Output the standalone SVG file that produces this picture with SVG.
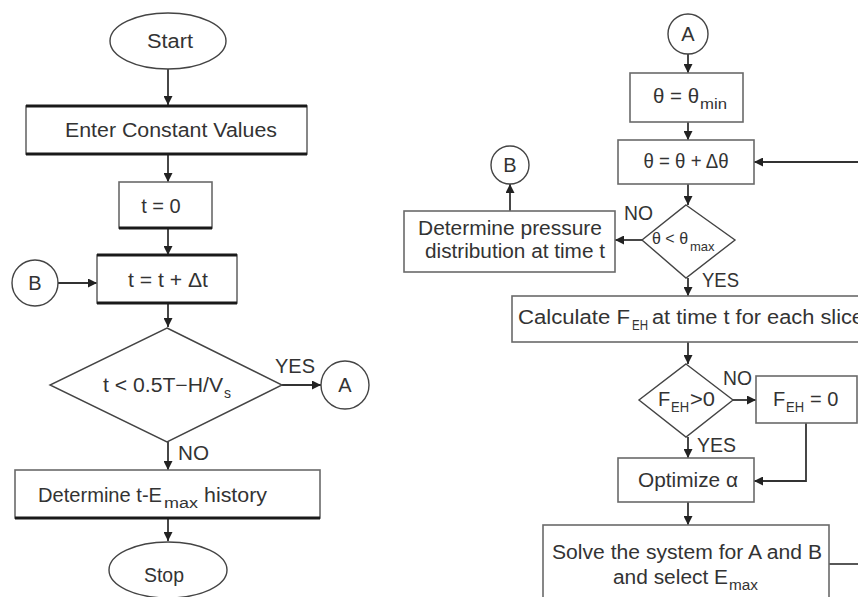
<svg xmlns="http://www.w3.org/2000/svg" width="858" height="597" viewBox="0 0 858 597">
<defs>
<marker id="ah" viewBox="0 0 10 10" refX="10" refY="5" markerWidth="9" markerHeight="9" markerUnits="userSpaceOnUse" orient="auto">
<path d="M0,0 L10,5 L0,10 z" fill="#222"/>
</marker>
<style>
.box{fill:#fff;stroke:#6a6a6a;stroke-width:1.6}
.dk{stroke:#1a1a1a;stroke-width:3;fill:none}
.c{fill:#fff;stroke:#444;stroke-width:1.4}
.t{font-family:"Liberation Sans",Arial,sans-serif;font-size:20px;fill:#333}
.s{font-size:14px}
.ln{fill:none;stroke:#444;stroke-width:1.8}
.ar{fill:none;stroke:#333;stroke-width:1.8;marker-end:url(#ah)}
</style>
</defs>
<rect width="858" height="597" fill="#fff"/>

<g id="connectors">
<path class="ar" d="M168,69 V105"/>
<path class="ar" d="M168,154 V182"/>
<path class="ar" d="M168,228 V255"/>
<path class="ar" d="M58,283 H97"/>
<path class="ar" d="M168,303 V327"/>
<path class="ar" d="M282,385 H321"/>
<path class="ar" d="M168,442 V470"/>
<path class="ar" d="M168,518 V541"/>
<path class="ar" d="M688,54 V73"/>
<path class="ar" d="M688,122 V140"/>
<path class="ar" d="M858,162 H754"/>
<path class="ar" d="M688,184 V205"/>
<path class="ar" d="M642,240 H615"/>
<path class="ar" d="M510,211 V184"/>
<path class="ar" d="M688,278 V296"/>
<path class="ar" d="M688,342 V364"/>
<path class="ar" d="M733,400 H756"/>
<path class="ar" d="M688,437 V458"/>
<path class="ar" d="M806,423 V481 H754"/>
<path class="ar" d="M688,502 V525"/>
<path class="ln" d="M829,564 H858"/>
</g>

<g id="start">
<ellipse class="c" cx="168" cy="41" rx="58" ry="28"/>
<text class="t" x="170" y="48" text-anchor="middle" textLength="46" lengthAdjust="spacingAndGlyphs">Start</text>
</g>
<g id="enter">
<rect class="box" x="26" y="106" width="281" height="48"/>
<path class="dk" d="M26,106 H307 M26,154 H307"/>
<text class="t" x="171" y="137" text-anchor="middle" textLength="212" lengthAdjust="spacingAndGlyphs">Enter Constant Values</text>
</g>
<g id="t0">
<rect class="box" x="119" y="182" width="93" height="46"/>
<path class="dk" d="M119,228 H212"/>
<text class="t" x="161" y="213" text-anchor="middle">t = 0</text>
</g>
<g id="tinc">
<rect class="box" x="97" y="255" width="140" height="48"/>
<path class="dk" d="M97,255 H237 M97,303 H237"/>
<text class="t" x="168" y="287" text-anchor="middle" textLength="80" lengthAdjust="spacingAndGlyphs">t = t + Δt</text>
</g>
<g id="connB1">
<circle class="c" cx="35" cy="283" r="23"/>
<text class="t" x="35" y="290" text-anchor="middle">B</text>
</g>
<g id="dec1">
<path class="c" d="M167,328 L282,385 L167,442 L50,385 Z"/>
<text class="t" x="103" y="392" textLength="120" lengthAdjust="spacingAndGlyphs">t &lt; 0.5T−H/V</text>
<text class="t s" x="224" y="398">s</text>
<text class="t" x="275" y="373" textLength="40" lengthAdjust="spacingAndGlyphs">YES</text>
<text class="t" x="178" y="460" textLength="31" lengthAdjust="spacingAndGlyphs">NO</text>
</g>
<g id="connA1">
<circle class="c" cx="345" cy="385" r="24"/>
<text class="t" x="345" y="392" text-anchor="middle">A</text>
</g>
<g id="detE">
<rect class="box" x="15" y="470" width="305" height="48"/>
<path class="dk" d="M15,518 H320"/>
<text class="t" x="38" y="502" textLength="124" lengthAdjust="spacingAndGlyphs">Determine t-E</text>
<text class="t s" x="164" y="508" textLength="34" lengthAdjust="spacingAndGlyphs">max</text>
<text class="t" x="204" y="502" textLength="63" lengthAdjust="spacingAndGlyphs">history</text>
</g>
<g id="stop">
<ellipse class="c" cx="168" cy="570" rx="59" ry="28"/>
<text class="t" x="164" y="582" text-anchor="middle" textLength="40" lengthAdjust="spacingAndGlyphs">Stop</text>
</g>

<g id="connA2">
<circle class="c" cx="688" cy="34" r="20"/>
<text class="t" x="688" y="41" text-anchor="middle">A</text>
</g>
<g id="thmin">
<rect class="box" x="630" y="73" width="113" height="49"/>
<text class="t" x="653" y="103" textLength="46" lengthAdjust="spacingAndGlyphs">θ = θ</text>
<text class="t s" x="700" y="109" textLength="27" lengthAdjust="spacingAndGlyphs">min</text>
</g>
<g id="thinc">
<rect class="box" x="618" y="140" width="136" height="44"/>
<text class="t" x="686" y="168" text-anchor="middle" textLength="85" lengthAdjust="spacingAndGlyphs">θ = θ + Δθ</text>
</g>
<g id="dec2">
<path class="c" d="M686,205 L735,240 L686,278 L642,240 Z"/>
<text class="t" x="652" y="244" style="font-size:16px">θ &lt; θ</text>
<text class="t" x="690" y="251" style="font-size:13px">max</text>
<text class="t" x="624" y="220" textLength="29" lengthAdjust="spacingAndGlyphs">NO</text>
<text class="t" x="702" y="287" textLength="37" lengthAdjust="spacingAndGlyphs">YES</text>
</g>
<g id="press">
<rect class="box" x="404" y="211" width="211" height="61"/>
<text class="t" x="418" y="235" textLength="184" lengthAdjust="spacingAndGlyphs">Determine pressure</text>
<text class="t" x="425" y="258" textLength="180" lengthAdjust="spacingAndGlyphs">distribution at time t</text>
</g>
<g id="connB2">
<circle class="c" cx="510" cy="165" r="19"/>
<text class="t" x="510" y="172" text-anchor="middle">B</text>
</g>
<g id="calc">
<rect class="box" x="512" y="296" width="360" height="46"/>
<text class="t" x="518" y="324" textLength="112" lengthAdjust="spacingAndGlyphs">Calculate F</text>
<text class="t s" x="632" y="330" textLength="16" lengthAdjust="spacingAndGlyphs">EH</text>
<text class="t" x="652" y="324" textLength="212" lengthAdjust="spacingAndGlyphs">at time t for each slice</text>
</g>
<g id="dec3">
<path class="c" d="M686,364 L733,400 L686,437 L639,400 Z"/>
<text class="t" x="658" y="406">F</text>
<text class="t s" x="671" y="412" textLength="18" lengthAdjust="spacingAndGlyphs">EH</text>
<text class="t" x="690" y="406" textLength="25" lengthAdjust="spacingAndGlyphs">&gt;0</text>
<text class="t" x="723" y="385" textLength="29" lengthAdjust="spacingAndGlyphs">NO</text>
<text class="t" x="697" y="452" textLength="39" lengthAdjust="spacingAndGlyphs">YES</text>
</g>
<g id="feh0">
<rect class="box" x="756" y="376" width="101" height="47"/>
<text class="t" x="773" y="406">F</text>
<text class="t s" x="786" y="412" textLength="18" lengthAdjust="spacingAndGlyphs">EH</text>
<text class="t" x="810" y="406">= 0</text>
</g>
<g id="opt">
<rect class="box" x="618" y="458" width="136" height="44"/>
<text class="t" x="638" y="487" textLength="100" lengthAdjust="spacingAndGlyphs">Optimize α</text>
</g>
<g id="solve">
<rect class="box" x="543" y="525" width="286" height="80"/>
<text class="t" x="552" y="559" textLength="270" lengthAdjust="spacingAndGlyphs">Solve the system for A and B</text>
<text class="t" x="613" y="584" textLength="115" lengthAdjust="spacingAndGlyphs">and select E</text>
<text class="t s" x="729" y="590" textLength="29" lengthAdjust="spacingAndGlyphs">max</text>
</g>
</svg>
